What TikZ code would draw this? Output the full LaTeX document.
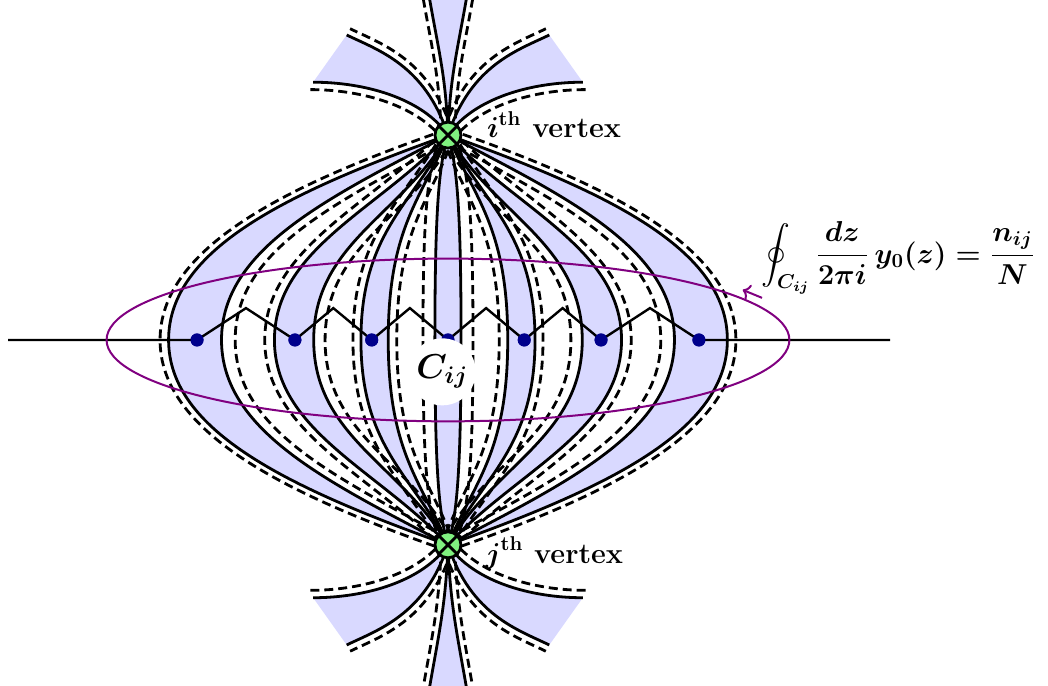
\documentclass[tikz,border=0pt]{standalone}
\usepackage{amsmath}
\usetikzlibrary{arrows.meta}
\definecolor{sheetblue}{RGB}{217,217,255}
\definecolor{cutnavy}{RGB}{0,0,140}
\definecolor{contourviolet}{RGB}{128,0,128}
\definecolor{vertexgreen}{RGB}{128,240,128}
\tikzset{
  wall/.style={draw=black,line width=1.4pt},
  shifted wall/.style={draw=black,line width=1.4pt,dash pattern=on 4.5pt off 2.5pt},
  sheet/.style={fill=sheetblue},
  cut/.style={draw=black,line width=1.2pt},
  branch point/.style={circle,fill=cutnavy,inner sep=0pt,minimum size=6.5pt},
  puncture/.style={circle,draw=black,fill=vertexgreen,line width=1.4pt,
    inner sep=0pt,minimum size=13pt},
  loop path/.style={draw=contourviolet,line width=1pt},
  cycle name/.style={circle,fill=white,inner sep=1pt,font=\LARGE},
  vlabel/.style={font=\Large\bfseries,inner sep=0pt}
}
\begin{document}
\begin{tikzpicture}
  \useasboundingbox (-7.873,-6.081) rectangle (10.545,5.975);
  \coordinate (vi) at (0,3.6);
  \coordinate (vj) at (0,-3.6);
  % sheets
  \foreach \side in {1,-1} {
    \begin{scope}[xscale=\side]
      \foreach \ma/\pa/\qa/\ra/\mb/\pb/\qb/\rb in {4.91/2.8/1.0/1.6/3.98/2.1/1.1/1.6,
          3.05/1.2/1.3/1.6/2.36/0.8/1.4/1.7, 1.53/0.6/1.2/1.9/1.05/0.45/1.1/2.0}
        \fill[sheet] (vi) .. controls +(-\pa,-\qa) and (-\ma,\ra) .. (-\ma,0)
          .. controls (-\ma,-\ra) and +(-\pa,\qa) .. (vj)
          .. controls +(-\pb,\qb) and (-\mb,-\rb) .. (-\mb,0)
          .. controls (-\mb,\rb) and +(-\pb,-\qb) .. (vi) -- cycle;
      \fill[sheet] (vi) .. controls +(-0.15,-0.5) and (-0.23,2.4) .. (-0.23,0)
        .. controls (-0.23,-2.4) and +(-0.15,0.5) .. (vj) -- cycle;
      \foreach \vx/\flip/\len in {vi/1/2.375,vj/-1/2.481} {
        \begin{scope}[shift={(\vx)},yscale=\flip]
          \fill[sheet] (0,0) .. controls +(108:1.3) and +(-26:0.6) .. (-1.78,1.76)
            -- (-2.37,0.93) .. controls +(0:0.9) and +(125:0.8) .. (0,0) -- cycle;
          \fill[sheet] (0,0) .. controls +(92:1) and +(-80:1) .. (-0.32,\len)
            -- (0,\len) -- cycle;
        \end{scope}
      }
    \end{scope}
  }
  % walls and their shifted copies
  \foreach \side in {1,-1} {
    \begin{scope}[xscale=\side]
      \foreach \sx/\sy/\md/\pd/\qd/\rd in {-0.03/3.695/5.06/2.88/1.0/1.6,
          0.043/3.51/3.74/1.98/1.1/1.6, -0.071/3.671/3.22/1.29/1.3/1.6,
          0.084/3.546/2.16/0.7/1.4/1.7, -0.087/3.65/1.67/0.67/1.2/1.9,
          0.091/3.559/0.90/0.38/1.1/2.0, -0.096/3.629/0.44/0.25/0.5/2.4}
        \draw[shifted wall] (\sx,\sy) .. controls +(-\pd,-\qd) and (-\md,\rd) .. (-\md,0)
          .. controls (-\md,-\rd) and +(-\pd,\qd) .. (\sx,-\sy);
      \foreach \mw/\pw/\qw/\rw in {4.91/2.8/1.0/1.6, 3.98/2.1/1.1/1.6,
          3.05/1.2/1.3/1.6, 2.36/0.8/1.4/1.7, 1.53/0.6/1.2/1.9,
          1.05/0.45/1.1/2.0, 0.23/0.15/0.5/2.4}
        \draw[wall] (vi) .. controls +(-\pw,-\qw) and (-\mw,\rw) .. (-\mw,0)
          .. controls (-\mw,-\rw) and +(-\pw,\qw) .. (vj);
      \foreach \vx/\flip/\len in {vi/1/2.375,vj/-1/2.481} {
        \begin{scope}[shift={(\vx)},yscale=\flip]
          \draw[shifted wall,shift={(0.06,0.11)}] (0,0) .. controls +(108:1.3)
            and +(-26:0.6) .. (-1.78,1.76);
          \draw[shifted wall,shift={(-0.05,-0.13)}] (-2.37,0.93) .. controls +(0:0.9)
            and +(125:0.8) .. (0,0);
          \draw[shifted wall,shift={(-0.12,0.05)}] (0,0) .. controls +(92:1)
            and +(-80:1) .. (-0.32,\len);
          \draw[wall] (0,0) .. controls +(108:1.3) and +(-26:0.6) .. (-1.78,1.76);
          \draw[wall] (-2.37,0.93) .. controls +(0:0.9) and +(125:0.8) .. (0,0);
          \draw[wall] (0,0) .. controls +(92:1) and +(-80:1) .. (-0.32,\len);
        \end{scope}
      }
    \end{scope}
  }
  % branch cut
  \coordinate (wl) at (-7.73,0);
  \coordinate (wr) at (7.77,0);
  \foreach \i/\x in {1/-4.41,2/-2.69,3/-1.34,4/0,5/1.34,6/2.69,7/4.41}
    \node[branch point] (b\i) at (\x,0) {};
  \foreach \i/\x in {1/-3.55,2/-2.015,3/-0.67,4/0.67,5/2.015,6/3.55}
    \coordinate (k\i) at (\x,0.56);
  \draw[cut] (wl) -- (b1.center) -- (k1) -- (b2.center) -- (k2) -- (b3.center)
    -- (k3) -- (b4.center) -- (k4) -- (b5.center) -- (k5) -- (b6.center)
    -- (k6) -- (b7.center) -- (wr);
  \foreach \i in {1,...,7}
    \node[branch point] at (b\i) {};
  % contour
  \draw[loop path] (0,0) ellipse [x radius=6.0,y radius=1.43];
  \coordinate (arrowfoot) at (5.52,0.74);
  \coordinate (arrowtip) at (5.18,0.88);
  \draw[loop path,-{To[length=3.5pt,width=8pt]}] (arrowfoot) -- (arrowtip);
  \node[cycle name] (cij) at (-0.1,-0.56) {$\boldsymbol{C_{ij}}$};
  % vertices
  \node[puncture] (ivert) at (vi) {};
  \node[puncture] (jvert) at (vj) {};
  \draw[line width=1.4pt] (ivert.north west) -- (ivert.south east)
    (ivert.north east) -- (ivert.south west);
  \draw[line width=1.4pt] (jvert.north west) -- (jvert.south east)
    (jvert.north east) -- (jvert.south west);
  \node[vlabel,anchor=base west] (ilabel) at (0.68,3.56)
    {$\boldsymbol{i}^{\mathbf{th}}$ vertex};
  \node[vlabel,anchor=base west] (jlabel) at (0.65,-3.92)
    {$\boldsymbol{j}^{\mathbf{th}}$ vertex};
  \node[font=\Large] (period) at (7.91,1.44)
    {$\boldsymbol{\displaystyle\oint_{C_{ij}}\frac{dz}{2\pi i}\,y_0(z)=\frac{n_{ij}}{N}}$};
\end{tikzpicture}
\end{document}
